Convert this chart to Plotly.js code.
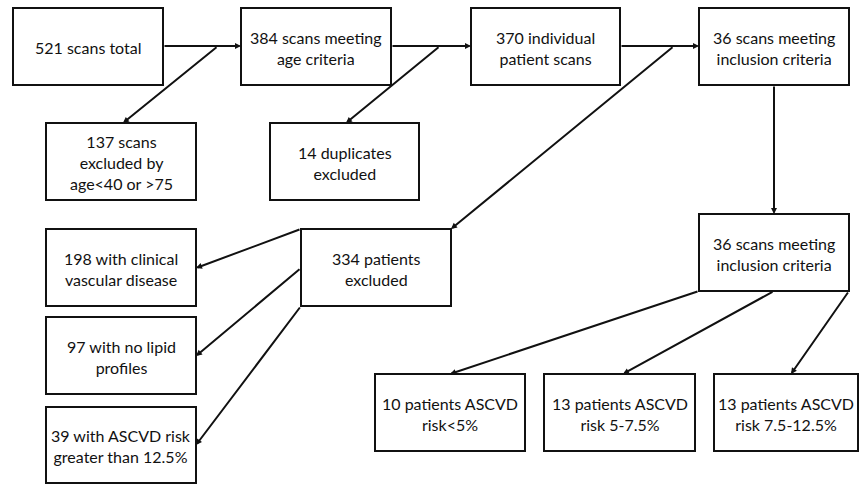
<!DOCTYPE html>
<html>
<head>
<meta charset="utf-8">
<script src="https://cdn.plot.ly/plotly-3.0.1.min.js"></script>
<style>html,body{margin:0;padding:0;background:#fff;}#chart{width:859px;height:484px;}</style>
</head>
<body>
<div id="chart"></div>
<script>
// Flowchart content (node labels)
var nodeIds = ["total","age","indiv","incl1","exAge","dup","exPat","vasc","lipid","risk","incl2","r1","r2","r3"];
var nodeLabels = [
  "521 scans total",
  "384 scans meeting<br>age criteria",
  "370 individual<br>patient scans",
  "36 scans meeting<br>inclusion criteria",
  "137 scans<br>excluded by<br>age<40 or >75",
  "14 duplicates<br>excluded",
  "334 patients<br>excluded",
  "198 with clinical<br>vascular disease",
  "97 with no lipid<br>profiles",
  "39 with ASCVD risk<br>greater than 12.5%",
  "36 scans meeting<br>inclusion criteria",
  "10 patients ASCVD<br>risk<5%",
  "13 patients ASCVD<br>risk 5-7.5%",
  "13 patients ASCVD<br>risk 7.5-12.5%"
];
// Flow links (from -> to)
var linkFrom = ["total","age","indiv","incl1","exPat","exPat","exPat","incl2","incl2","incl2"];
var linkTo   = ["age","indiv","incl1","incl2","vasc","lipid","risk","r1","r2","r3"];

// Layout geometry (pixel frame, separate from data)
var boxes = {
  total:[13,8,163,85], age:[241,8,391,85], indiv:[471,8,620,85], incl1:[699,8,849,85],
  exAge:[46,123,196,200], dup:[270,123,419,200], exPat:[301,229,451,306],
  vasc:[46,229,196,306], lipid:[46,317,196,394], risk:[46,407,196,483],
  incl2:[699,214,849,291], r1:[375,374,525,451], r2:[544,374,695,451], r3:[714,374,858,451]
};
// arrow paths: [x0,y0,x1,y1] with head at (x1,y1)
var arrows = [
  [163,46,241,46],[218,46,123,123],
  [391,46,471,46],[440,46,346,123],
  [620,46,699,46],[674,46,451,229],
  [774,85,774,214],
  [301,229,196,268],[301,268,196,356],[301,306,196,445],
  [699,291,450,374],[774,291,623,374],[849,291,791,374]
];

var shapes = [];
var annotations = [];
nodeIds.forEach(function(id, i){
  var b = boxes[id];
  shapes.push({type:"rect", xref:"x", yref:"y", x0:b[0], y0:b[1], x1:b[2], y1:b[3],
    line:{color:"#111", width:2}, fillcolor:"rgba(0,0,0,0)"});
  annotations.push({xref:"x", yref:"y", x:(b[0]+b[2])/2, y:(b[1]+b[3])/2 + 1,
    text:nodeLabels[i], showarrow:false, xanchor:"center", yanchor:"middle",
    font:{family:"Lato, 'Open Sans', sans-serif", size:16, color:"#111"}, align:"center"});
});
arrows.forEach(function(a){
  annotations.push({xref:"x", yref:"y", axref:"x", ayref:"y", x:a[2], y:a[3], ax:a[0], ay:a[1],
    text:"", showarrow:true, arrowhead:2, arrowsize:0.6, arrowwidth:2, arrowcolor:"#111", standoff:0, startstandoff:0});
});

var layout = {
  width:859, height:484,
  margin:{l:0,r:0,t:0,b:0},
  paper_bgcolor:"#fff", plot_bgcolor:"#fff",
  xaxis:{range:[0,859], visible:false, fixedrange:true},
  yaxis:{range:[484,0], visible:false, fixedrange:true},
  showlegend:false,
  shapes:shapes,
  annotations:annotations
};
Plotly.newPlot("chart", [{x:[], y:[], type:"scatter", mode:"markers", hoverinfo:"skip"}], layout, {displayModeBar:false, staticPlot:true});
</script>
</body>
</html>
